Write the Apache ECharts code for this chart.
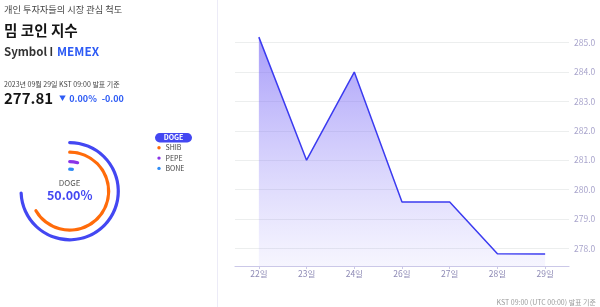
<!DOCTYPE html>
<html><head><meta charset="utf-8">
<script src="https://cdn.jsdelivr.net/npm/echarts@6/dist/echarts.min.js"></script>
<style>html,body{margin:0;padding:0;background:#fff}#c{width:600px;height:307px}</style>
</head><body><div id="c"></div>
<script>
const days = ['22일','23일','24일','26일','27일','28일','29일'];
const indexValues = [285.19, 281.0, 284.0, 279.58, 279.58, 277.82, 277.81];
const yTicks = [278, 279, 280, 281, 282, 283, 284, 285];
const coinNames = ['DOGE','SHIB','PEPE','BONE'];
const coinShares = [50.0, 44.8, 2.9, 1.3];
const coinColors = ['#4347f2','#ff6b0a','#8a35e8','#2f8cf5'];
const ringRadii = [50.2, 40.6, 31.2, 23.6];

const FONT = '"Noto Sans CJK KR", "Noto Sans", sans-serif';
const chart = echarts.init(document.getElementById('c'), null, {renderer: 'canvas'});

const gaugeSeries = coinNames.map((name, i) => ({
  type: 'gauge',
  center: [69.7, 191.2],
  radius: ringRadii[i],
  startAngle: 90,
  endAngle: -270,
  min: 0,
  max: 67.2,
  silent: true,
  progress: {show: true, roundCap: true, width: 3.2, itemStyle: {color: coinColors[i]}},
  axisLine: {show: false},
  splitLine: {show: false},
  axisTick: {show: false},
  axisLabel: {show: false},
  pointer: {show: false},
  anchor: {show: false},
  title: i === 0 ? {show: true, offsetCenter: [0, -8], fontSize: 8, color: '#555', fontFamily: FONT} : {show: false},
  detail: i === 0 ? {show: true, offsetCenter: [0, 4.5], fontSize: 12.5, fontWeight: 600, color: '#4347f2', fontFamily: FONT,
    formatter: v => v.toFixed(2) + '%'} : {show: false},
  data: [{name: name, value: coinShares[i]}]
}));

const legendGraphics = [];
coinNames.forEach((name, i) => {
  const y = 137.5 + i * 10.3;
  if (i === 0) {
    legendGraphics.push({type: 'rect', shape: {x: 155, y: 133, width: 37, height: 9.5, r: 4.75}, style: {fill: '#4347f2'}});
    legendGraphics.push({type: 'text', x: 173.5, y: y, style: {text: name, fill: '#fff', font: 'bold 7px ' + FONT, align: 'center', verticalAlign: 'middle'}});
  } else {
    legendGraphics.push({type: 'circle', shape: {cx: 159, cy: y, r: 1.7}, style: {fill: coinColors[i]}});
    legendGraphics.push({type: 'text', x: 165.5, y: y, style: {text: name, fill: '#444', font: '7px ' + FONT, verticalAlign: 'middle'}});
  }
});

const option = {
  animation: false,
  backgroundColor: '#fff',
  grid: {left: 235, right: 31, top: 28, bottom: 41, outerBoundsMode: 'none', containLabel: false},
  xAxis: {
    type: 'category', data: days, boundaryGap: true,
    axisLine: {lineStyle: {color: '#cbc8e8', width: 1.2}},
    axisTick: {show: true, alignWithLabel: true, length: 3, lineStyle: {color: '#cbc8e8'}},
    axisLabel: {color: '#8e8ab5', fontSize: 8.5, margin: 4, fontFamily: FONT},
    splitLine: {show: false}
  },
  yAxis: {
    type: 'value', position: 'right', min: 277.4, max: 285.5, scale: true,
    axisLine: {show: false},
    axisTick: {show: false, customValues: yTicks},
    axisLabel: {customValues: yTicks, color: '#a9a5cc', fontSize: 8.5, margin: 5, fontFamily: FONT, formatter: v => v.toFixed(1)},
    splitLine: {show: true, lineStyle: {color: '#eceeee', width: 1}}
  },
  series: [{
    type: 'line', data: indexValues, showSymbol: false, symbol: 'none',
    lineStyle: {color: '#3b3bf0', width: 1.5},
    areaStyle: {color: new echarts.graphic.LinearGradient(0, 0, 0, 1, [
      {offset: 0, color: 'rgba(118,100,246,0.9)'},
      {offset: 1, color: 'rgba(150,140,248,0.12)'}
    ])},
    silent: true
  }].concat(gaugeSeries),
  graphic: [
    {type: 'line', shape: {x1: 217.5, y1: 0, x2: 217.5, y2: 307}, style: {stroke: '#ecebf7', lineWidth: 1}},
    {type: 'text', x: 4, y: 10, style: {text: '개인 투자자들의 시장 관심 척도', fill: '#444', font: '9.2px ' + FONT, verticalAlign: 'middle'}},
    {type: 'text', x: 4, y: 30.5, style: {text: '밈 코인 지수', fill: '#151515', font: 'bold 14.6px ' + FONT, verticalAlign: 'middle'}},
    {type: 'text', x: 4, y: 51.5, style: {text: 'Symbol', fill: '#333', font: 'bold 11.5px ' + FONT, verticalAlign: 'middle'}},
    {type: 'rect', shape: {x: 50.5, y: 47, width: 1.6, height: 9}, style: {fill: '#333'}},
    {type: 'text', x: 57, y: 51.5, style: {text: 'MEMEX', fill: '#2d5bf5', font: 'bold 11.8px ' + FONT, verticalAlign: 'middle'}},
    {type: 'text', x: 4, y: 84, style: {text: '2023년 09월 29일 KST 09:00 발표 기준', fill: '#444', font: '7px ' + FONT, verticalAlign: 'middle'}},
    {type: 'text', x: 4, y: 98, style: {text: '277.81', fill: '#151515', font: 'bold 15px ' + FONT, verticalAlign: 'middle'}},
    {type: 'polygon', shape: {points: [[59.3, 95.5], [65.7, 95.5], [62.5, 101]]}, style: {fill: '#2d5bf5'}},
    {type: 'text', x: 69.3, y: 98.5, style: {text: '0.00%', fill: '#2d5bf5', font: '600 9px ' + FONT, verticalAlign: 'middle'}},
    {type: 'text', x: 101.7, y: 98.5, style: {text: '-0.00', fill: '#2d5bf5', font: '600 9px ' + FONT, verticalAlign: 'middle'}},
    {type: 'text', x: 596, y: 302, style: {text: 'KST 09:00 (UTC 00:00) 발표 기준', fill: '#9a9a9a', font: '7px ' + FONT, align: 'right', verticalAlign: 'middle'}}
  ].concat(legendGraphics)
};
chart.setOption(option);
</script></body></html>
